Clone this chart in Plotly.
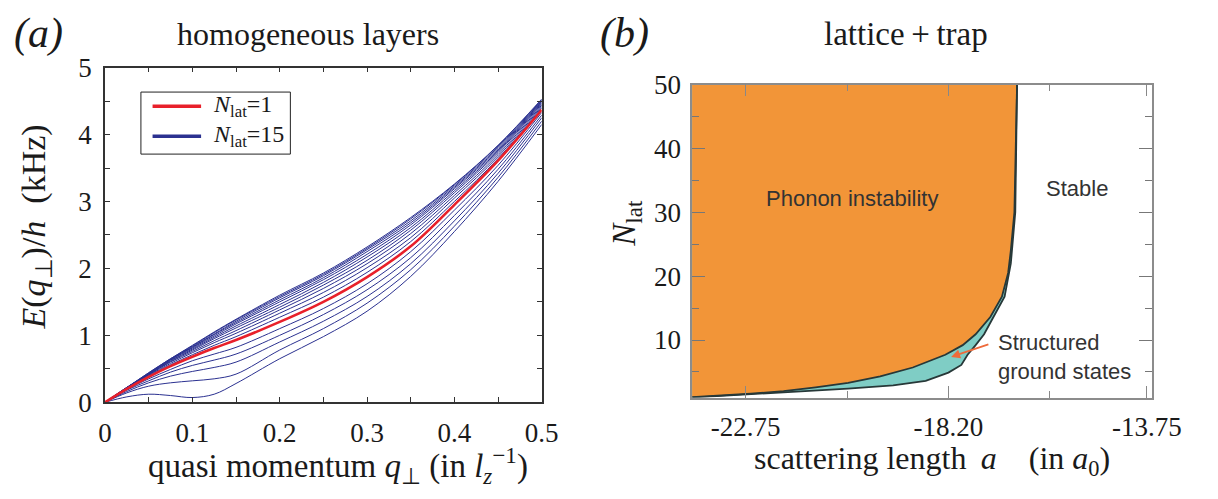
import plotly.graph_objects as go

# ---------------- Panel (a): dispersion curves ----------------
q = [0, 0.025, 0.05, 0.075, 0.1, 0.125, 0.15, 0.2, 0.25, 0.3, 0.35, 0.4, 0.45, 0.5]

E_N1 = [0, .20, .38, .54, .68, .81, .93, 1.20, 1.50, 1.87, 2.33, 2.95, 3.61, 4.37]

E_N15 = [
    [0, .08, .12, .10, .07, .12, .28, .65, .98, 1.36, 1.88, 2.55, 3.30, 4.15],
    [0, .14, .24, .29, .32, .35, .42, .78, 1.10, 1.48, 1.98, 2.63, 3.36, 4.20],
    [0, .16, .29, .39, .46, .52, .60, .90, 1.21, 1.58, 2.07, 2.71, 3.42, 4.25],
    [0, .18, .32, .45, .55, .63, .72, 1.00, 1.31, 1.68, 2.16, 2.79, 3.48, 4.29],
    [0, .19, .35, .49, .62, .72, .82, 1.10, 1.40, 1.77, 2.25, 2.87, 3.54, 4.33],
    [0, .20, .39, .56, .71, .85, .98, 1.27, 1.57, 1.94, 2.40, 3.00, 3.64, 4.40],
    [0, .21, .40, .58, .74, .89, 1.03, 1.33, 1.64, 2.01, 2.46, 3.05, 3.67, 4.42],
    [0, .21, .41, .60, .76, .92, 1.07, 1.38, 1.70, 2.07, 2.52, 3.09, 3.70, 4.44],
    [0, .21, .41, .61, .78, .95, 1.11, 1.42, 1.75, 2.12, 2.57, 3.13, 3.73, 4.46],
    [0, .22, .42, .62, .795, .97, 1.14, 1.46, 1.79, 2.17, 2.61, 3.16, 3.75, 4.475],
    [0, .22, .42, .63, .81, .99, 1.17, 1.50, 1.83, 2.21, 2.65, 3.19, 3.77, 4.49],
    [0, .22, .43, .64, .82, 1.01, 1.19, 1.53, 1.86, 2.25, 2.68, 3.21, 3.79, 4.50],
    [0, .22, .43, .64, .83, 1.02, 1.21, 1.56, 1.89, 2.28, 2.71, 3.23, 3.81, 4.51],
    [0, .22, .44, .65, .84, 1.04, 1.23, 1.58, 1.91, 2.30, 2.74, 3.25, 3.83, 4.52],
    [0, .22, .44, .65, .85, 1.05, 1.24, 1.60, 1.93, 2.32, 2.76, 3.26, 3.84, 4.53],
]

a_ticks = [0, 0.05, 0.1, 0.15, 0.2, 0.25, 0.3, 0.35, 0.4, 0.45, 0.5]
a_ticklabels = ["0", "", "0.1", "", "0.2", "", "0.3", "", "0.4", "", "0.5"]
e_ticks = [0, 0.5, 1, 1.5, 2, 2.5, 3, 3.5, 4, 4.5, 5]
e_ticklabels = ["0", "", "1", "", "2", "", "3", "", "4", "", "5"]
legend_labels = ["<i>N</i><sub>lat</sub>=1", "<i>N</i><sub>lat</sub>=15"]

# ---------------- Panel (b): stability diagram ----------------
phonon_a = [-16.66, -16.72, -16.80, -16.86, -17.00, -17.26, -17.59, -17.88, -18.27,
            -19.00, -19.73, -20.45, -21.18, -21.90, -22.63, -23.36, -23.95]
phonon_N = [50, 30, 24, 20.5, 16.8, 13.6, 10.9, 9.2, 7.7,
            5.7, 4.3, 3.3, 2.6, 2.0, 1.6, 1.3, 1.05]
stable_a = [-16.66, -16.70, -16.80, -16.94, -17.19, -17.40, -17.59, -17.77, -17.91,
            -18.20, -18.71, -19.44, -20.45, -21.90, -23.36, -23.95]
stable_N = [50, 30, 22, 16.8, 13.6, 10.9, 9.2, 7.7, 6.1,
            4.9, 3.6, 2.9, 2.4, 1.8, 1.2, 1.0]

b_major = [-22.75, -18.20, -13.75]
b_major_labels = ["-22.75", "-18.20", "-13.75"]
b_minor = [-20.475, -15.925]
n_major = [10, 20, 30, 40, 50]
n_minor = [5, 15, 25, 35, 45]

SERIF = "Liberation Serif, Times New Roman, serif"
SANS = "Liberation Sans, Arial, sans-serif"
BLUE = "#2B3190"
RED = "#E8202A"
ORANGE = "#F29538"
TEAL = "#7FCDC5"
EDGE = "#273838"
INK = "#1a1a1a"

W, H = 1218, 499

fig = go.Figure()

for row in E_N15:
    fig.add_trace(go.Scatter(x=q, y=row, mode="lines", line=dict(color=BLUE, width=1, shape="spline"),
                             showlegend=False, xaxis="x", yaxis="y", hoverinfo="skip"))
fig.add_trace(go.Scatter(x=q, y=E_N1, mode="lines", line=dict(color=RED, width=2.6, shape="spline"),
                         showlegend=False, xaxis="x", yaxis="y"))

x_left = -25.0
fig.add_trace(go.Scatter(x=stable_a + [x_left, x_left], y=stable_N + [0.5, 50],
                         fill="toself", fillcolor=TEAL, mode="none", showlegend=False,
                         xaxis="x2", yaxis="y2", hoverinfo="skip"))
fig.add_trace(go.Scatter(x=phonon_a + [x_left, x_left], y=phonon_N + [0.5, 50],
                         fill="toself", fillcolor=ORANGE, mode="none", showlegend=False,
                         xaxis="x2", yaxis="y2", hoverinfo="skip"))
fig.add_trace(go.Scatter(x=stable_a, y=stable_N, mode="lines", line=dict(color=EDGE, width=1.8),
                         showlegend=False, xaxis="x2", yaxis="y2"))
fig.add_trace(go.Scatter(x=phonon_a, y=phonon_N, mode="lines", line=dict(color=EDGE, width=1.8),
                         showlegend=False, xaxis="x2", yaxis="y2"))

tickfont = dict(family=SERIF, size=27, color=INK)

fig.update_layout(
    width=W, height=H,
    margin=dict(l=0, r=0, t=0, b=0),
    paper_bgcolor="white", plot_bgcolor="white",
    showlegend=False,
    xaxis=dict(domain=[101 / W, 551 / W], range=[0, 0.5], anchor="y",
               tickmode="array", tickvals=a_ticks, ticktext=a_ticklabels,
               ticks="inside", ticklen=5, tickwidth=1, tickcolor="#333",
               showline=True, linecolor="#333", linewidth=1.5, mirror="ticks",
               showgrid=False, zeroline=False, tickfont=tickfont, ticklabelstandoff=6),
    yaxis=dict(domain=[1 - 412 / H, 1 - 56 / H], range=[0, 5], anchor="x",
               tickmode="array", tickvals=e_ticks, ticktext=e_ticklabels,
               ticks="inside", ticklen=5, tickwidth=1, tickcolor="#333",
               showline=True, linecolor="#333", linewidth=1.5, mirror="ticks",
               showgrid=False, zeroline=False, tickfont=tickfont, ticklabelstandoff=6),
    xaxis2=dict(domain=[706 / W, 1180 / W], range=[-23.95, -13.63], anchor="y2",
                tickmode="array", tickvals=b_major, ticktext=b_major_labels,
                ticks="inside", ticklen=12, tickwidth=1, tickcolor="#888",
                minor=dict(tickmode="array", tickvals=b_minor, ticks="inside", ticklen=7,
                           tickwidth=1, tickcolor="#888", showgrid=False),
                showline=True, linecolor="#8c8c8c", linewidth=1.5, mirror="ticks",
                showgrid=False, zeroline=False, tickfont=tickfont, ticklabelstandoff=4),
    yaxis2=dict(domain=[1 - 407 / H, 1 - 74 / H], range=[1, 50], anchor="x2",
                tickmode="array", tickvals=n_major, ticktext=[str(v) for v in n_major],
                ticks="inside", ticklen=13, tickwidth=1, tickcolor="#777",
                minor=dict(tickmode="array", tickvals=n_minor, ticks="inside", ticklen=7,
                           tickwidth=1, tickcolor="#777", showgrid=False),
                showline=True, linecolor="#8c8c8c", linewidth=1.5, mirror="ticks",
                showgrid=False, zeroline=False, tickfont=tickfont, ticklabelstandoff=4),
)

def paper_text(txt, x, y, size, family=SERIF, angle=0, color=INK, xanchor="center"):
    fig.add_annotation(text=txt, x=x / W, y=1 - y / H, xref="paper", yref="paper",
                       xanchor=xanchor, yanchor="middle", showarrow=False, textangle=angle,
                       font=dict(family=family, size=size, color=color))

# legend box (panel a)
fig.add_shape(type="rect", xref="paper", yref="paper", x0=138 / W, x1=292 / W,
              y0=1 - 148 / H, y1=1 - 82 / H, line=dict(color="#222", width=1), fillcolor="white",
              layer="above")
for yy, col, lab in [(97, RED, legend_labels[0]), (129, BLUE, legend_labels[1])]:
    fig.add_shape(type="line", xref="paper", yref="paper", x0=150 / W, x1=200 / W,
                  y0=1 - yy / H, y1=1 - yy / H, line=dict(color=col, width=3.5), layer="above")
    paper_text(lab, 210, yy, 24, xanchor="left")

paper_text("<i>(a)</i>", 32, 20, 42)
paper_text("homogeneous layers", 310, 20, 32)
paper_text("<i>(b)</i>", 636, 20, 42)
paper_text("lattice\u2009+\u2009trap", 926, 20, 33)
paper_text("<i>E</i>(<i>q</i><sub>⊥</sub>)/<i>h</i>  (kHz)", 30, 226, 34, angle=-90)
paper_text("quasi momentum <i>q</i><sub>⊥</sub> (in <i>l</i><sub><i>z</i></sub><sup>−1</sup>)", 341, 479, 33)
paper_text("<i>N</i><sub>lat</sub>", 639, 222, 33, angle=-90)
paper_text("scattering length \u2009<i>a</i> \u2002 (in <i>a</i><sub>0</sub>)", 953, 474, 32)

fig.add_annotation(text="Phonon instability", x=-20.36, y=32.2, xref="x2", yref="y2",
                   showarrow=False, font=dict(family=SANS, size=22, color="#333"))
fig.add_annotation(text="Stable", x=-15.31, y=33.7, xref="x2", yref="y2",
                   showarrow=False, font=dict(family=SANS, size=22, color="#333"))
fig.add_annotation(text="Structured<br>ground states", x=-17.14, y=7.4, xref="x2", yref="y2",
                   xanchor="left", yanchor="middle", align="left", showarrow=False,
                   font=dict(family=SANS, size=22, color="#333"))
fig.add_annotation(x=-18.14, y=7.35, ax=-17.27, ay=9.4, xref="x2", yref="y2",
                   axref="x2", ayref="y2", text="", showarrow=True, arrowhead=2,
                   arrowsize=1, arrowwidth=1.8, arrowcolor="#EE6A3A")

fig.write_html("out.html")
